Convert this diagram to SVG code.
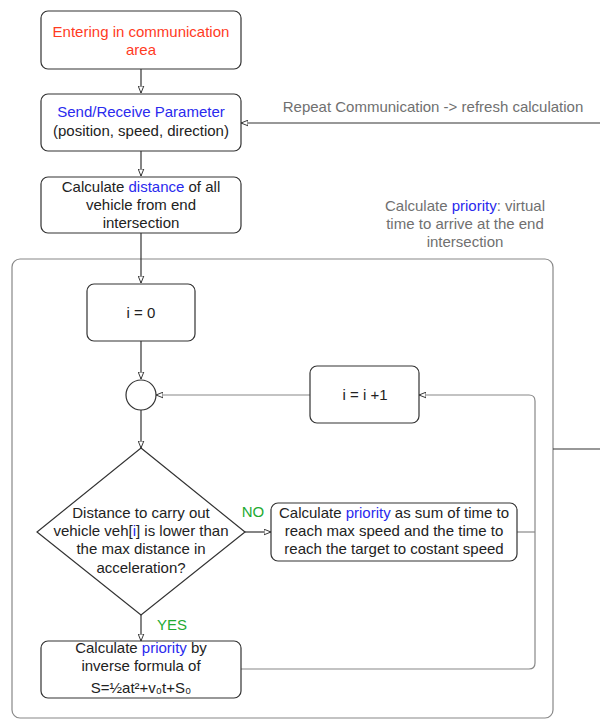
<svg xmlns="http://www.w3.org/2000/svg" width="600" height="720" viewBox="0 0 600 720">
<style>
text{font-family:"Liberation Sans",Arial,sans-serif;font-size:15px;fill:#222;text-anchor:middle}
.box{fill:#fff;stroke:#333;stroke-width:1.2}
.cont{fill:none;stroke:#888;stroke-width:1.2}
.ln{fill:none;stroke:#333;stroke-width:1.2}
.lg{fill:none;stroke:#888;stroke-width:1.2}
.red{fill:#ff3b1f}
.blue{fill:#2a2aee}
.gray{fill:#707070}
.green{fill:#22aa33}
</style>
<defs>
<marker id="ah" viewBox="0 0 10 10" refX="10" refY="5" markerWidth="7" markerHeight="7" markerUnits="userSpaceOnUse" orient="auto">
<path d="M0,1 L10,5 L0,9 Z" fill="#fff" stroke="#333" stroke-width="1.4"/>
</marker>
</defs>
<rect width="600" height="720" fill="#fff"/>
<g id="container">
<rect class="cont" x="12" y="259" width="541" height="459" rx="8"/>
<text x="465" y="211" class="gray">Calculate <tspan class="blue">priority</tspan>: virtual</text>
<text x="465" y="229" class="gray">time to arrive at the end</text>
<text x="465" y="247" class="gray">intersection</text>
</g>
<g id="connectors">
<line class="ln" x1="141" y1="69" x2="141" y2="93" marker-end="url(#ah)"/>
<line class="ln" x1="141" y1="151" x2="141" y2="176" marker-end="url(#ah)"/>
<line class="ln" x1="141" y1="233" x2="141" y2="283" marker-end="url(#ah)"/>
<line class="ln" x1="141" y1="341" x2="141" y2="379" marker-end="url(#ah)"/>
<line class="ln" x1="141" y1="410" x2="141" y2="448" marker-end="url(#ah)"/>
<line class="ln" x1="245" y1="532" x2="271" y2="532" marker-end="url(#ah)"/>
<line class="ln" x1="141" y1="615" x2="141" y2="641" marker-end="url(#ah)"/>
<line class="lg" x1="310" y1="395" x2="156" y2="395" marker-end="url(#ah)"/>
<path class="lg" d="M241,669 H529 Q535,669 535,663 V401 Q535,395 529,395 H419" marker-end="url(#ah)"/>
<line class="lg" x1="517" y1="532" x2="535" y2="532"/>
<line class="ln" x1="553" y1="449" x2="600" y2="449"/>
<line class="ln" x1="600" y1="123" x2="241" y2="123" marker-end="url(#ah)"/>
<text x="433" y="112" class="gray">Repeat Communication -&gt; refresh calculation</text>
<text x="253" y="517" class="green">NO</text>
<text x="172" y="630" class="green">YES</text>
</g>
<g id="n1">
<rect class="box" x="41" y="11" width="200" height="58" rx="7"/>
<text x="141" y="37" class="red">Entering in communication</text>
<text x="141" y="55" class="red">area</text>
</g>
<g id="n2">
<rect class="box" x="41" y="94" width="200" height="57" rx="7"/>
<text x="141" y="117" class="blue">Send/Receive Parameter</text>
<text x="141" y="136">(position, speed, direction)</text>
</g>
<g id="n3">
<rect class="box" x="41" y="177" width="200" height="56" rx="7"/>
<text x="141" y="192">Calculate <tspan class="blue">distance</tspan> of all</text>
<text x="141" y="210">vehicle from end</text>
<text x="141" y="228">intersection</text>
</g>
<g id="n4">
<rect class="box" x="87" y="284" width="108" height="57" rx="7"/>
<text x="141" y="318">i = 0</text>
</g>
<g id="n5">
<circle class="box" cx="141" cy="395" r="15"/>
</g>
<g id="n6">
<rect class="box" x="310" y="366" width="109" height="57" rx="7"/>
<text x="365" y="400">i = i +1</text>
</g>
<g id="n7">
<path class="box" d="M141,448 L245,532 L141,615 L37,532 Z"/>
<text x="141" y="518">Distance to carry out</text>
<text x="141" y="536">vehicle veh[<tspan class="blue">i</tspan>] is lower than</text>
<text x="141" y="554">the max distance in</text>
<text x="141" y="573">acceleration?</text>
</g>
<g id="n8">
<rect class="box" x="271" y="503" width="246" height="58" rx="7"/>
<text x="394" y="518">Calculate <tspan class="blue">priority</tspan> as sum of time to</text>
<text x="394" y="536">reach max speed and the time to</text>
<text x="394" y="554">reach the target to costant speed</text>
</g>
<g id="n9">
<rect class="box" x="41" y="641" width="200" height="57" rx="7"/>
<text x="141" y="653">Calculate <tspan class="blue">priority</tspan> by</text>
<text x="141" y="671">inverse formula of</text>
<text x="141" y="693">S=½at²+v₀t+S₀</text>
</g>
</svg>
